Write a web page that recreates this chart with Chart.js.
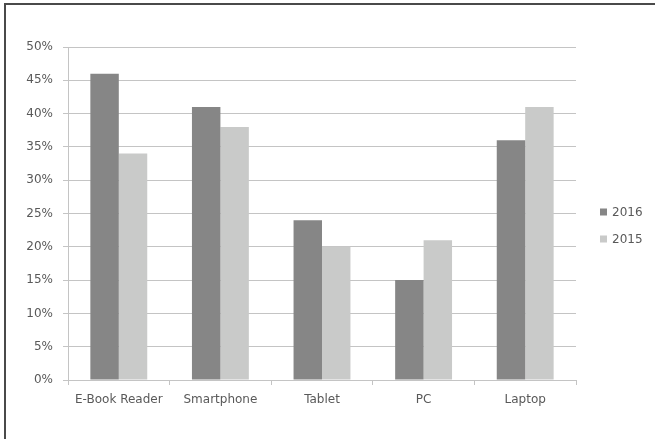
<!DOCTYPE html>
<html>
<head>
<meta charset="utf-8">
<script src="https://cdn.jsdelivr.net/npm/chart.js@4/dist/chart.umd.min.js"></script>
<style>
  html, body { margin: 0; padding: 0; background: #ffffff; }
  #wrap { position: relative; width: 655px; height: 439px; }
</style>
</head>
<body>
<div id="wrap"><canvas id="c" width="655" height="439"></canvas></div>
<script>
// Share of users by device, two survey years
const categories = ['E-Book Reader', 'Smartphone', 'Tablet', 'PC', 'Laptop'];
const values2016 = [46, 41, 24, 15, 36];
const values2015 = [34, 38, 20, 21, 41];
const seriesNames = ['2016', '2015'];
const yTicks = [0, 5, 10, 15, 20, 25, 30, 35, 40, 45, 50];

const FONT = 'DejaVu Sans';
const TEXT = '#595959';
const GRID = '#c4c4c4';

// Frame lines along the top and left edge of the figure
const framePlugin = {
  id: 'frame',
  beforeDraw(chart) {
    const ctx = chart.ctx;
    ctx.save();
    ctx.strokeStyle = '#4a4a4a';
    ctx.lineWidth = 2;
    ctx.beginPath();
    ctx.moveTo(5, chart.height + 2);
    ctx.lineTo(5, 4);
    ctx.lineTo(chart.width + 2, 4);
    ctx.stroke();
    ctx.restore();
  }
};

// Legend drawn to the right of the plot
const sideLegend = {
  id: 'sideLegend',
  afterDraw(chart) {
    const ctx = chart.ctx;
    ctx.save();
    ctx.font = '12px "' + FONT + '"';
    ctx.textBaseline = 'middle';
    ctx.textAlign = 'left';
    const x = 600, y0 = 212, step = 27;
    chart.data.datasets.forEach((ds, i) => {
      const y = y0 + i * step;
      ctx.fillStyle = ds.backgroundColor;
      ctx.fillRect(x, y - 3.5, 7, 7);
      ctx.fillStyle = TEXT;
      ctx.fillText(ds.label, x + 12, y + 0.5);
    });
    ctx.restore();
  }
};

new Chart(document.getElementById('c'), {
  type: 'bar',
  data: {
    labels: categories,
    datasets: [
      { label: seriesNames[0], data: values2016, backgroundColor: '#868686' },
      { label: seriesNames[1], data: values2015, backgroundColor: '#c9cac9' }
    ]
  },
  options: {
    responsive: false,
    animation: false,
    devicePixelRatio: 1,
    layout: { padding: { left: 0, right: 79, top: 47, bottom: 28 } },
    datasets: { bar: { categoryPercentage: 0.56, barPercentage: 1.0 } },
    plugins: { legend: { display: false }, tooltip: { enabled: false } },
    scales: {
      x: {
        afterFit(scale) { scale.height = 31; },
        grid: { display: true, drawOnChartArea: false, drawTicks: true, tickLength: 5, color: GRID, offset: true },
        border: { display: true, color: GRID, width: 1 },
        ticks: { color: TEXT, font: { family: FONT, size: 12 }, padding: 8, maxRotation: 0, autoSkip: false }
      },
      y: {
        min: 0, max: 50,
        afterFit(scale) { scale.width = 68; },
        afterBuildTicks(scale) { scale.ticks = yTicks.map(v => ({ value: v })); },
        grid: { color: GRID, tickLength: 5, drawTicks: true },
        border: { display: true, color: GRID, width: 1 },
        ticks: {
          color: TEXT, font: { family: FONT, size: 12 }, padding: 10,
          callback: v => v + '%'
        }
      }
    }
  },
  plugins: [framePlugin, sideLegend]
});
</script>
</body>
</html>
